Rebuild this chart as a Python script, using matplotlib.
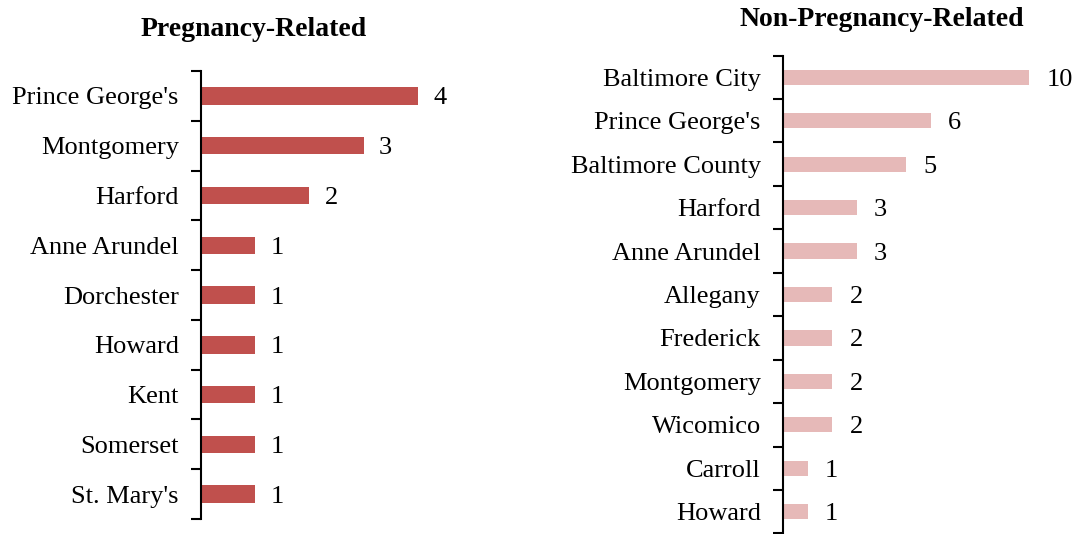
import numpy as np
import matplotlib.pyplot as plt

preg_counties = ["Prince George's", "Montgomery", "Harford", "Anne Arundel",
                 "Dorchester", "Howard", "Kent", "Somerset", "St. Mary's"]
preg_counts = [4, 3, 2, 1, 1, 1, 1, 1, 1]

nonpreg_counties = ["Baltimore City", "Prince George's", "Baltimore County",
                    "Harford", "Anne Arundel", "Allegany", "Frederick",
                    "Montgomery", "Wicomico", "Carroll", "Howard"]
nonpreg_counts = [10, 6, 5, 3, 3, 2, 2, 2, 2, 1, 1]

plt.rcParams['font.family'] = ['Liberation Serif', 'DejaVu Serif']

fig = plt.figure(figsize=(10.78, 5.34), dpi=100)


def draw_panel(ax, names, vals, color, xmax, gap):
    n = len(names)
    y = np.arange(n)
    ax.barh(y, vals, height=0.35, color=color)
    ax.set_ylim(n - 0.5, -0.5)
    ax.set_xlim(0, xmax)
    ax.set_yticks(y)
    ax.set_yticklabels(names, fontsize=19)
    ax.set_yticks(np.arange(n + 1) - 0.5, minor=True)
    ax.tick_params(axis='y', which='major', length=0, pad=16)
    ax.tick_params(axis='y', which='minor', length=7, width=1.5, direction='out')
    ax.set_xticks([])
    for s in ['top', 'right', 'bottom']:
        ax.spines[s].set_visible(False)
    ax.spines['left'].set_linewidth(1.5)
    for yi, v in zip(y, vals):
        ax.text(v + gap, yi, str(v), va='center_baseline', ha='left', fontsize=19)


ax1 = fig.add_axes([0.1865, 0.028, 0.2514, 0.839])
draw_panel(ax1, preg_counties, preg_counts, '#C0504D', 5, 0.28)

ax2 = fig.add_axes([0.7263, 0.001, 0.2514, 0.895])
draw_panel(ax2, nonpreg_counties, nonpreg_counts, '#E6B9B8', 11, 0.7)

fig.text(254 / 1078, 1 - 29 / 534, "Pregnancy-Related", ha='center', va='center',
         fontsize=20, fontweight='bold')
fig.text(882 / 1078, 1 - 19 / 534, "Non-Pregnancy-Related", ha='center', va='center',
         fontsize=20, fontweight='bold')

fig.savefig('out.png', dpi=100)
